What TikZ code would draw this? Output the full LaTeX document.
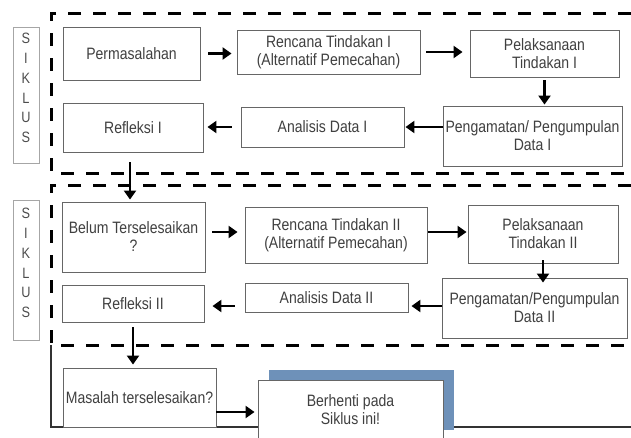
\documentclass[tikz,border=0pt]{standalone}
\usepackage{fontspec}
\setmainfont[FakeStretch=0.85]{Liberation Sans}
\usetikzlibrary{arrows.meta,shadows}

\begin{document}
\begin{tikzpicture}[
    x=1pt, y=-1pt,
    box/.style={draw=black!60, line width=0.9pt, fill=white, text=black!75,
                font=\fontsize{16.5}{18}\selectfont, align=center, inner sep=2pt},
    cyclebox/.style={draw=black!35, line width=0.9pt, text=black!70,
                     font=\fontsize{15}{19.8}\selectfont, align=center,
                     minimum width=26pt, inner sep=1pt},
    flow/.style={-{Triangle[length=9pt,width=12pt]}, line width=2.8pt},
    border/.style={line width=3pt, dash pattern=on 13pt off 12pt},
]
    \useasboundingbox (0,0) rectangle (631,437);

    % dashed frames of the two cycles
    \draw[border] (631,13) -- (51,13) -- (51,173) -- (631,173);
    \draw[border] (631,185) -- (51,185) -- (51,345) -- (631,345);
    \draw[line width=1.2pt, black!80] (51,345) -- (51,427) -- (631,427);

    \node[cyclebox, minimum height=136pt] (cycle1) at (26,95)
        {S\\I\\K\\L\\U\\S\rule[-14pt]{0pt}{14pt}};
    \node[cyclebox, minimum height=140pt] (cycle2) at (26,270)
        {S\\I\\K\\L\\U\\S\rule[-14pt]{0pt}{14pt}};

    % cycle I
    \node[box, minimum width=137pt, minimum height=53pt] (problem) at (131.5,53.5) {Permasalahan};
    \node[box, minimum width=183pt, minimum height=44pt] (plan1) at (328.5,52) {Rencana Tindakan I\\(Alternatif Pemecahan)};
    \node[box, minimum width=149pt, minimum height=47pt] (act1) at (544.5,53.5) {Pelaksanaan\\Tindakan I};
    \node[box, minimum width=179pt, minimum height=60pt] (observe1) at (532.5,136) {Pengamatan/ Pengumpulan\\Data I};
    \node[box, minimum width=163pt, minimum height=40pt] (analysis1) at (322.5,127) {Analisis Data I};
    \node[box, minimum width=140pt, minimum height=49pt] (reflect1) at (133,127.5) {Refleksi I};

    \draw[flow, shorten <=8pt, shorten >=5pt] (problem.east) -- (plan1.west |- problem.east);
    \draw[flow, shorten <=6pt, shorten >=7pt] (plan1.east) -- (act1.west |- plan1.east);
    \draw[flow, shorten <=3pt, shorten >=1pt] (act1.south) -- (act1.south |- observe1.north);
    \draw[flow, shorten >=1pt] (observe1.west |- analysis1.east) -- (analysis1.east);
    \draw[flow, shorten <=9pt, shorten >=4pt] (analysis1.west) -- (reflect1.east |- analysis1.west);

    % cycle II
    \node[box, minimum width=143pt, minimum height=70pt] (belum) at (133.5,237) {Belum Terselesaikan\\?};
    \node[box, minimum width=182pt, minimum height=56pt] (plan2) at (336,235) {Rencana Tindakan II\\(Alternatif Pemecahan)};
    \node[box, minimum width=150pt, minimum height=58pt] (act2) at (543,234) {Pelaksanaan\\Tindakan II};
    \node[box, minimum width=185pt, minimum height=60pt] (observe2) at (534.5,308) {Pengamatan/Pengumpulan\\Data II};
    \node[box, minimum width=163pt, minimum height=29pt] (analysis2) at (326.5,297.5) {Analisis Data II};
    \node[box, minimum width=142pt, minimum height=37pt] (reflect2) at (133,303.5) {Refleksi II};

    \draw[flow, shorten <=10pt, shorten >=2pt] ([xshift=-3pt]reflect1.south) -- ([xshift=-3pt]reflect1.south |- belum.north);
    \draw[flow, shorten <=7pt, shorten >=7pt] ([yshift=5pt]belum.east) -- ([yshift=5pt]belum.east -| plan2.west);
    \draw[flow, shorten <=1pt, shorten >=1pt] ([yshift=3pt]plan2.east) -- ([yshift=3pt]plan2.east -| act2.west);
    \draw[flow, shorten <=-3pt, shorten >=-5pt] (act2.south) -- (act2.south |- observe2.north);
    \draw[flow, shorten >=3pt] ([yshift=-8.5pt]analysis2.east -| observe2.west) -- ([yshift=-8.5pt]analysis2.east);
    \draw[flow, shorten <=10pt, shorten >=8pt] ([yshift=-8.5pt]analysis2.west) -- ([yshift=-8.5pt]analysis2.west -| reflect2.east);

    % end
    \node[box, minimum width=153pt, minimum height=59pt] (masalah) at (139.5,397.5) {Masalah terselesaikan?};
    \node[box, minimum width=185pt, minimum height=60pt,
          drop shadow={shadow xshift=11pt, shadow yshift=10pt, opacity=1,
                       fill={rgb,255:red,110;green,145;blue,185}}] (stop) at (350.5,410) {Berhenti pada\\Siklus ini!};

    \draw[flow, shorten <=5pt, shorten >=3pt] (reflect2.south) -- (reflect2.south |- masalah.north);
    \draw[flow, shorten >=3pt] ([yshift=-14.5pt]masalah.east) -- ([yshift=-14.5pt]masalah.east -| stop.west);

\end{tikzpicture}
\end{document}
